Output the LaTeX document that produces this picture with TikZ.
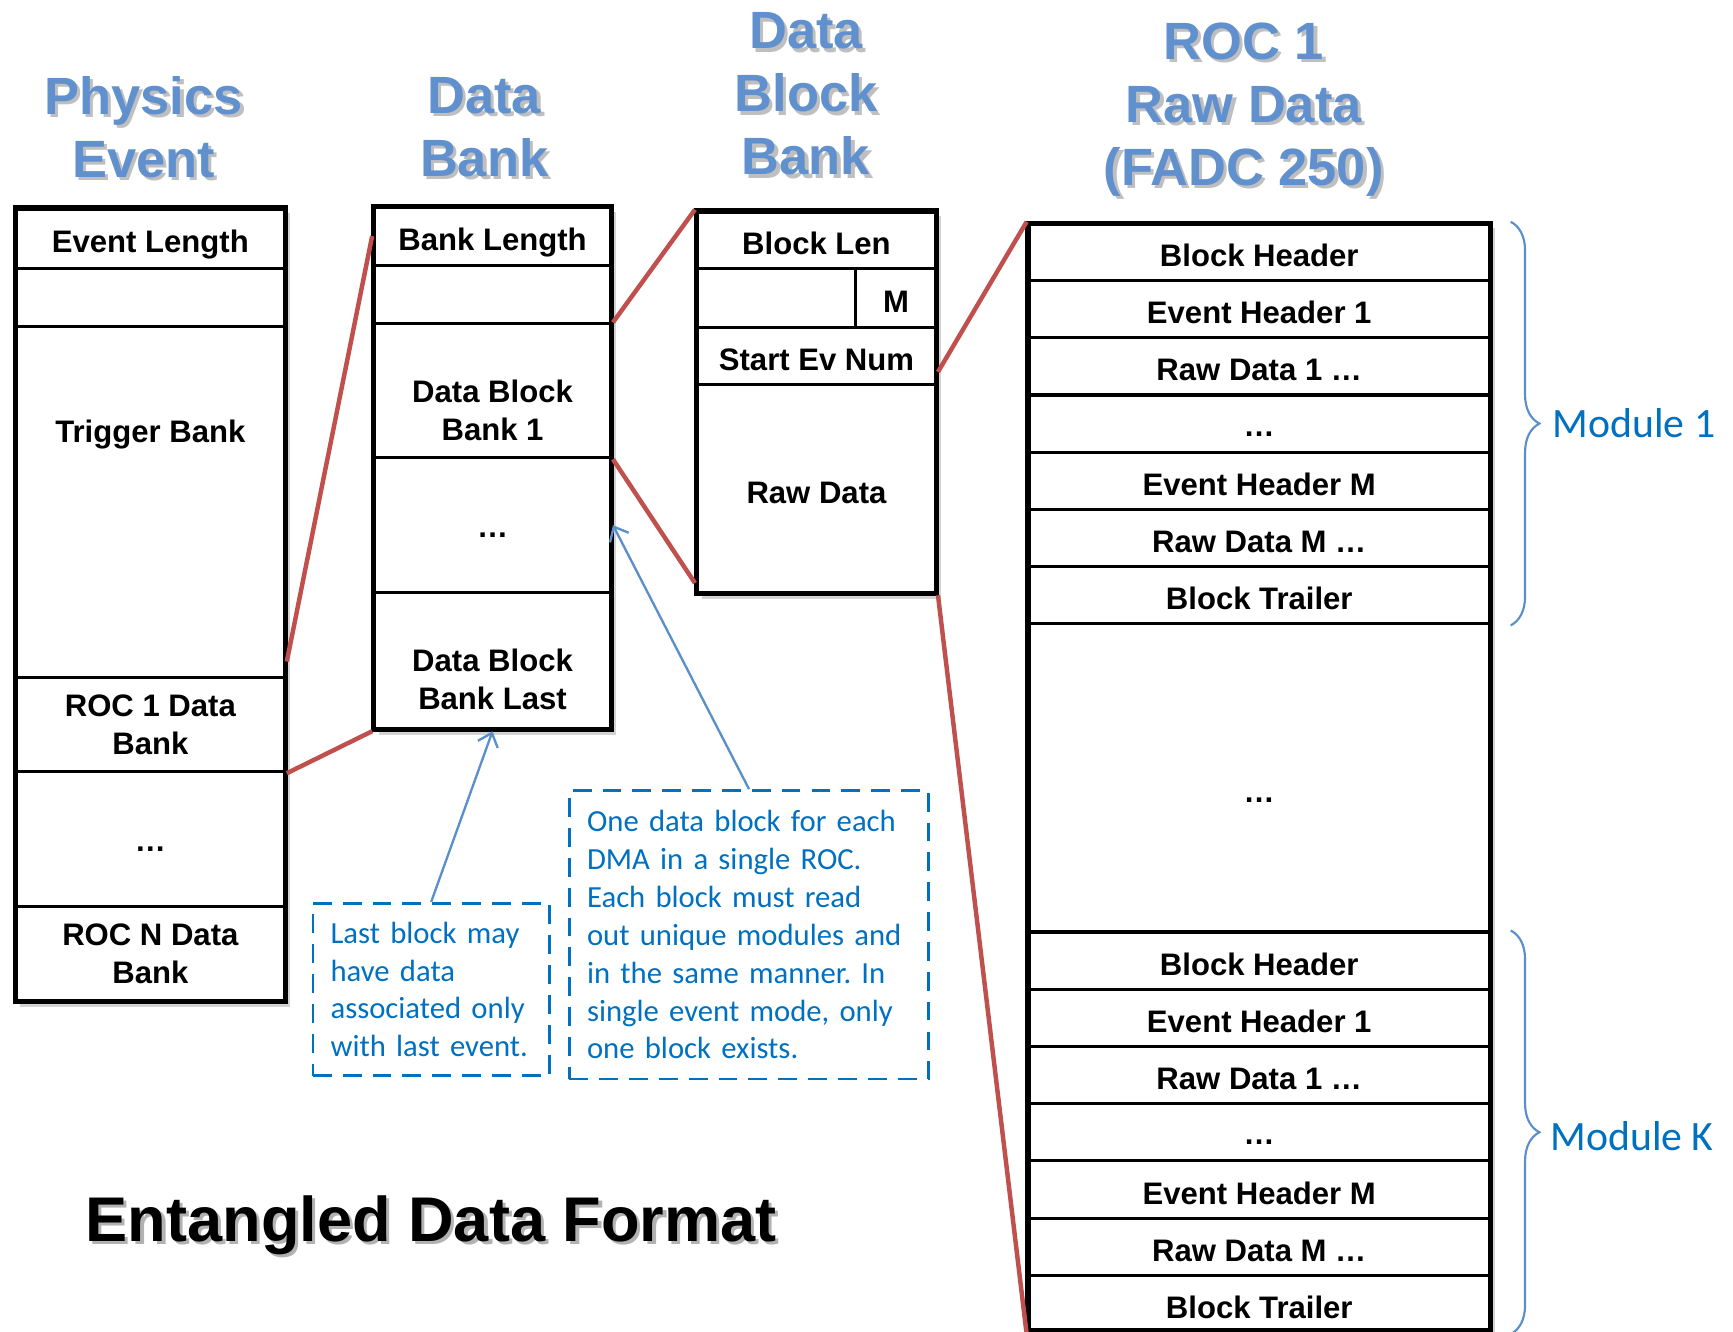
\documentclass[tikz,border=0pt]{standalone}
\usepackage{fontspec}
\setmainfont{Liberation Sans}
\newfontfamily\notefont{Carlito}
\usetikzlibrary{arrows.meta,shadows,decorations.pathreplacing}
\frenchspacing

\definecolor{titleblue}{RGB}{96,145,206}
\definecolor{notecolor}{RGB}{0,112,192}
\definecolor{linkred}{RGB}{192,80,77}
\definecolor{pointblue}{RGB}{91,143,201}

\tikzset{
  bankframe/.style={draw, line width=2.8pt, fill=white, inner sep=0pt,
    drop shadow={shadow xshift=0.09cm, shadow yshift=-0.09cm, opacity=0.35}},
  cellbox/.style={draw, line width=1.6pt, inner sep=0pt, align=center,
    font=\bfseries\fontsize{16}{19.5}\selectfont},
  textcell/.style={text height=15pt, text depth=0pt},
  dotcell/.style={text height=13pt, text depth=0pt},
  pecell/.style={cellbox, minimum width=4.88cm},
  dbcell/.style={cellbox, minimum width=4.30cm},
  dbbcell/.style={cellbox, minimum width=4.34cm},
  rawcell/.style={cellbox, minimum width=8.36cm, minimum height=1.035cm},
  celltext/.style={align=center, inner sep=0pt, font=\bfseries\fontsize{16}{19.5}\selectfont},
  coltitle/.style={align=center, text=titleblue, font=\bfseries\fontsize{27}{32.4}\selectfont},
  titleshadow/.style={coltitle, text=black, opacity=0.25},
  redlink/.style={draw=linkred, line width=2.3pt},
  notebox/.style={draw=notecolor, line width=1.4pt, dash pattern=on 0.34cm off 0.2cm,
    text=notecolor, align=left, inner xsep=0.32cm, font=\notefont\fontsize{15.8}{19.5}\selectfont},
  notearrow/.style={draw=pointblue, line width=1.2pt, -{Straight Barb[length=2.2mm,width=3.8mm]}},
  modbrace/.style={draw=pointblue, line width=1.1pt, decorate, decoration={brace, amplitude=0.52cm}},
  modlabel/.style={text=notecolor, anchor=west, inner sep=0pt, font=\notefont\fontsize{21.5}{26}\selectfont}
}

\begin{document}
\begin{tikzpicture}
  \useasboundingbox (0,0) rectangle (31.35,-24.08);

  % Column titles
  \node[titleshadow] (pe-title-s) at (2.66,-2.36) {Physics\\Event};
  \node[coltitle] (pe-title) at (2.60,-2.30) {Physics\\Event};
  \node[titleshadow] (db-title-s) at (8.82,-2.36) {Data\\Bank};
  \node[coltitle] (db-title) at (8.76,-2.30) {Data\\Bank};
  \node[titleshadow] (dbb-title-s) at (14.64,-1.76) {Data\\Block\\Bank};
  \node[coltitle] (dbb-title) at (14.58,-1.70) {Data\\Block\\Bank};
  \node[titleshadow] (roc-title-s) at (22.56,-2.04) {ROC 1\\Raw Data\\(FADC 250)};
  \node[coltitle] (roc-title) at (22.50,-1.98) {ROC 1\\Raw Data\\(FADC 250)};

  % Physics event
  \node[bankframe, minimum width=4.88cm, minimum height=14.36cm] (pe) at (2.72,-10.94) {};
  \node[pecell, textcell, minimum height=1.10cm] (pe-len) at (2.72,-4.31) {Event Length};
  \node[pecell, minimum height=1.04cm] (pe-blank) at (2.72,-5.38) {};
  \node[pecell, minimum height=6.36cm] (pe-trig) at (2.72,-9.08) {};
  \node[celltext] (pe-trig-lbl) at (2.72,-7.86) {Trigger Bank};
  \node[pecell, minimum height=1.70cm] (pe-roc1) at (2.72,-13.11) {ROC 1 Data\\Bank};
  \node[pecell, dotcell, minimum height=2.44cm] (pe-dots) at (2.72,-15.18) {…};
  \node[pecell, minimum height=1.72cm] (pe-rocn) at (2.72,-17.26) {ROC N Data\\Bank};

  % Data bank
  \node[bankframe, minimum width=4.30cm, minimum height=9.46cm] (db) at (8.91,-8.47) {};
  \node[dbcell, textcell, minimum height=1.06cm] (db-len) at (8.91,-4.27) {Bank Length};
  \node[dbcell, minimum height=1.06cm] (db-blank) at (8.91,-5.33) {};
  \node[dbcell, minimum height=2.42cm] (db-b1) at (8.91,-7.07) {};
  \node[celltext] (db-b1-lbl) at (8.91,-7.43) {Data Block\\Bank 1};
  \node[dbcell, dotcell, minimum height=2.44cm] (db-dots) at (8.91,-9.50) {…};
  \node[dbcell, minimum height=2.48cm] (db-last) at (8.91,-11.96) {};
  \node[celltext] (db-last-lbl) at (8.91,-12.29) {Data Block\\Bank Last};

  % Data block bank
  \node[bankframe, minimum width=4.34cm, minimum height=6.92cm] (dbb) at (14.77,-7.28) {};
  \node[dbbcell, textcell, minimum height=1.04cm] (dbb-len) at (14.77,-4.34) {Block Len};
  \node[dbbcell, minimum width=2.88cm, minimum height=1.06cm] (dbb-gap) at (14.04,-5.39) {};
  \node[dbbcell, textcell, minimum width=1.46cm, minimum height=1.06cm] (dbb-m) at (16.21,-5.39) {M};
  \node[dbbcell, textcell, minimum height=1.04cm] (dbb-start) at (14.77,-6.44) {Start Ev Num};
  \node[dbbcell, textcell, minimum height=3.78cm] (dbb-raw) at (14.77,-8.85) {Raw Data};

  % ROC 1 raw data
  \node[bankframe, minimum width=8.36cm, minimum height=20.04cm] (roc) at (22.78,-14.06) {};
  \foreach \lbl/\kind [count=\i] in {Block Header/textcell, Event Header 1/textcell, Raw Data 1 …/textcell,
      …/dotcell, Event Header M/textcell, Raw Data M …/textcell, Block Trailer/textcell}
    \node[rawcell, \kind] (ra\i) at (22.78,{-4.04-1.035*(\i-0.5)}) {\lbl};
  \node[rawcell, dotcell, text height=25.6pt, minimum height=5.575cm] (raw-dots) at (22.78,-14.07) {…};
  \foreach \lbl/\kind [count=\i] in {Block Header/textcell, Event Header 1/textcell, Raw Data 1 …/textcell,
      …/dotcell, Event Header M/textcell, Raw Data M …/textcell, Block Trailer/textcell}
    \node[rawcell, \kind] (rb\i) at (22.78,{-16.86-1.035*(\i-0.5)}) {\lbl};

  % Zoom lines
  \draw[redlink] ([yshift=0.32cm]pe-trig.south east) -- (db-len.west);
  \draw[redlink] (pe-roc1.south east) -- (db-last.south west);
  \draw[redlink] (db-b1.north east) -- (dbb-len.north west);
  \draw[redlink] (db-b1.south east) -- ([yshift=0.22cm]dbb-raw.south west);
  \draw[redlink] ([yshift=0.26cm]dbb-start.south east) -- (ra1.north west);
  \draw[redlink] (dbb-raw.south east) -- (rb7.south west);

  % Notes
  \node[notebox, text width=3.64cm, minimum height=3.12cm] (note-last) at (7.80,-17.90)
    {Last block may\\have data\\associated only\\with last event.};
  \node[notebox, text width=5.86cm, minimum height=5.22cm] (note-dma) at (13.55,-16.91)
    {One data block for each\\DMA in a single ROC.\\Each block must read\\out unique modules and\\in the same manner. In\\single event mode, only\\one block exists.};
  \draw[notearrow] (note-last.north) -- (db-last.south);
  \draw[notearrow] (note-dma.north) -- (db-dots.east);

  % Modules
  \draw[modbrace] ([xshift=0.34cm]ra1.north east) -- ([xshift=0.34cm]ra7.south east);
  \node[modlabel] (mod1) at (28.08,-7.66) {Module 1};
  \draw[modbrace] ([xshift=0.34cm]rb1.north east) -- ([xshift=0.34cm]rb7.south east);
  \node[modlabel] (modk) at (28.04,-20.56) {Module K};

  % Caption
  \node[text=black, opacity=0.3, font=\bfseries\fontsize{32.5}{39}\selectfont] (caption-s) at (7.86,-22.22) {Entangled Data Format};
  \node[font=\bfseries\fontsize{32.5}{39}\selectfont] (caption) at (7.80,-22.16) {Entangled Data Format};
\end{tikzpicture}
\end{document}
